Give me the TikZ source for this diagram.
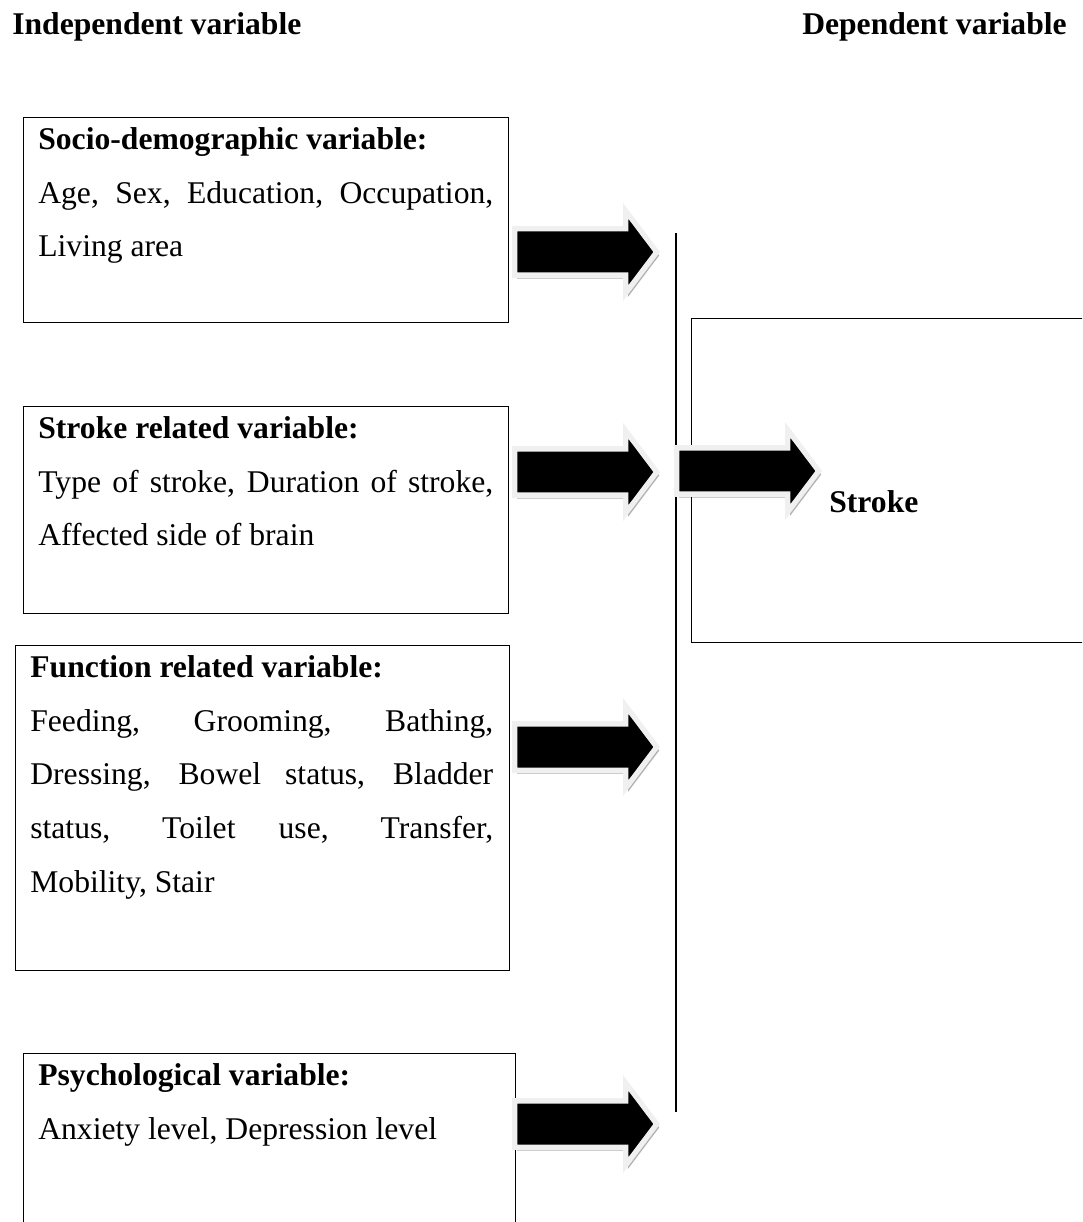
\documentclass[tikz,border=0pt]{standalone}
\usepackage{fontspec}
\setmainfont{Liberation Serif}
\usetikzlibrary{shapes.arrows,shadows}

\begin{document}
\begin{tikzpicture}[x=0.02cm, y=-0.02cm,
    font=\fontsize{18}{30.6}\selectfont,
    varbox/.style={draw, line width=0.8pt, inner sep=0, anchor=north west},
    vartext/.style={inner sep=0, anchor=north west, text width=9.1cm, align=justify},
    heading/.style={inner sep=0, font=\fontsize{18}{30.6}\selectfont\bfseries},
    fatarrow/.style={single arrow, fill=black, draw=gray!12, line width=3pt,
      minimum height=2.84cm, inner xsep=0, inner ysep=0.41cm,
      single arrow head extend=0.36cm, single arrow tip angle=106, anchor=tip,
      drop shadow={shadow xshift=0.05cm, shadow yshift=-0.07cm, fill=black, opacity=0.3}}]

  \clip (0,0) rectangle (1082,1222);

  % Ueberschriften
  \node[heading, anchor=base west] (indep) at (12,35) {Independent variable};
  \node[heading, anchor=base east] (dep) at (1067,35) {Dependent variable};

  % Kaesten links
  \node[varbox, minimum width=9.7cm, minimum height=4.1cm] (socio) at (23,117) {};
  \node[vartext] (sociotext) at (38,127)
    {\textbf{Socio-demographic variable:}\\
     Age, Sex, Education, Occupation,\linebreak Living area};

  \node[varbox, minimum width=9.7cm, minimum height=4.14cm] (strk) at (23,406) {};
  \node[vartext] (strktext) at (38,416)
    {\textbf{Stroke related variable:}\\
     Type of stroke, Duration of stroke,\linebreak Affected side of brain};

  \node[varbox, minimum width=9.88cm, minimum height=6.5cm] (func) at (15,645) {};
  \node[vartext, text width=9.26cm] (functext) at (30,655)
    {\textbf{Function related variable:}\\
     Feeding, Grooming, Bathing,\linebreak Dressing, Bowel status, Bladder\linebreak
     status, Toilet use, Transfer,\linebreak Mobility, Stair};

  \node[varbox, minimum width=9.84cm, minimum height=4.2cm] (psych) at (23,1053) {};
  \node[vartext] (psychtext) at (38,1063)
    {\textbf{Psychological variable:}\\
     Anxiety level, Depression level};

  % Kasten rechts
  \node[varbox, minimum width=8.4cm, minimum height=6.48cm] (outcome) at (691,318) {};
  \node[heading, anchor=base west] (stroke) at (829,512) {Stroke};

  % Sammellinie
  \coordinate (top) at (676,233);
  \coordinate (bottom) at (676,1112);
  \draw[line width=0.8pt] (top) -- (bottom);

  % Blockpfeile
  \node[fatarrow] (a1) at (660,252) {};
  \node[fatarrow] (a2) at (660,472) {};
  \node[fatarrow] (a3) at (660,747) {};
  \node[fatarrow] (a4) at (660,1124) {};
  \node[fatarrow] (a5) at (822,471) {};

\end{tikzpicture}
\end{document}
